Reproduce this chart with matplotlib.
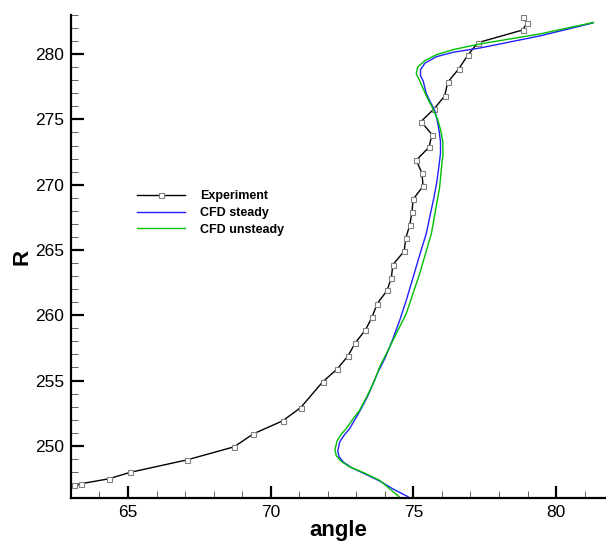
import matplotlib
matplotlib.use("Agg")
import matplotlib.pyplot as plt
from matplotlib.ticker import MultipleLocator

plt.rcParams['font.family'] = ['Liberation Sans', 'DejaVu Sans']

# experiment: angle, R
exp_angle = [63.1, 63.37, 64.33, 65.07, 67.07, 68.72, 69.39, 70.42, 71.05, 71.82,
             72.33, 72.71, 72.96, 73.32, 73.56, 73.73, 74.08, 74.23, 74.28, 74.68,
             74.73, 74.87, 74.95, 74.99, 75.34, 75.30, 75.10, 75.55, 75.65, 75.27,
             75.72, 76.1, 76.2, 76.6, 76.9, 77.26, 78.83, 78.97, 78.83]
exp_R = [247.0, 247.1, 247.47, 247.96, 248.92, 249.92, 250.91, 251.91, 252.92, 254.89,
         255.88, 256.88, 257.87, 258.87, 259.89, 260.88, 261.9, 262.88, 263.87, 264.91,
         265.88, 266.88, 267.87, 268.88, 269.88, 270.88, 271.88, 272.87, 273.84, 274.84,
         275.8, 276.8, 277.84, 278.9, 279.9, 280.88, 281.85, 282.36, 282.87]

# CFD steady
st_angle = [74.81, 74.28, 73.82, 73.3, 72.85, 72.55, 72.4, 72.35, 72.42, 72.57, 72.76,
            72.95, 73.11, 73.4, 73.76, 74.0, 74.25, 74.52, 74.76, 74.99, 75.22,
            75.45, 75.62, 75.72, 75.83, 75.9, 75.95, 75.95, 75.9, 75.83, 75.75,
            75.57, 75.45, 75.34, 75.25, 75.25, 75.4, 75.8, 76.4, 77.33, 79.44, 81.29]
st_R = [246.1, 246.7, 247.3, 247.85, 248.3, 248.75, 249.15, 249.6, 250.3, 250.8, 251.3,
        252.0, 252.6, 253.8, 255.65, 256.68, 258.0, 259.6, 261.2, 262.9, 264.6,
        266.24, 268.0, 269.0, 270.32, 271.5, 272.4, 273.3, 274.15, 275.0, 275.68,
        276.44, 277.0, 277.97, 278.35, 278.8, 279.3, 279.8, 280.15, 280.47, 281.4, 282.39]

# CFD unsteady
un_angle = [74.5, 74.17, 73.82, 73.3, 72.75, 72.45, 72.3, 72.25, 72.33, 72.48, 72.64,
            72.9, 73.11, 73.4, 73.64, 73.82, 74.23, 74.75, 75.22, 75.63, 75.92,
            76.01, 76.04, 76.03, 75.96, 75.85, 75.69, 75.45, 75.22, 75.1, 75.15,
            75.4, 75.8, 76.4, 77.33, 79.44, 81.31]
un_R = [246.1, 246.7, 247.35, 247.9, 248.4, 248.85, 249.25, 249.7, 250.4, 250.9, 251.3,
        252.1, 252.7, 253.9, 255.0, 256.04, 257.83, 260.12, 263.18, 266.24, 269.8,
        271.85, 272.36, 273.3, 274.15, 275.0, 275.8, 276.82, 277.97, 278.5, 279.0,
        279.5, 279.95, 280.35, 280.78, 281.55, 282.43]

fig = plt.figure(figsize=(6.06, 5.41), dpi=100)
ax = fig.add_axes([0.117, 0.0795, 0.883, 0.8928])

ax.plot(exp_angle, exp_R, color='black', lw=1.0, marker='s', markersize=3.6,
        markerfacecolor='white', markeredgecolor='#808080', markeredgewidth=0.8,
        label='Experiment')
ax.plot(st_angle, st_R, color='#2020ff', lw=1.0, label='CFD steady')
ax.plot(un_angle, un_R, color='#00c000', lw=1.0, label='CFD unsteady')

ax.set_xlim(63, 81.75)
ax.set_ylim(246, 283)
ax.xaxis.set_major_locator(MultipleLocator(5))
ax.xaxis.set_minor_locator(MultipleLocator(1))
ax.yaxis.set_major_locator(MultipleLocator(5))
ax.yaxis.set_minor_locator(MultipleLocator(1))

for s in ['top', 'right']:
    ax.spines[s].set_visible(False)
for s in ['left', 'bottom']:
    ax.spines[s].set_linewidth(1.6)

ax.tick_params(which='major', direction='in', length=9, width=1.6, labelsize=12.5, pad=5)
ax.tick_params(which='minor', direction='in', length=5, width=0.7, color='#606060')

ax.set_xlabel('angle', fontsize=16, fontweight='bold', labelpad=0)
ax.set_ylabel('R', fontsize=16, fontweight='bold', labelpad=2)

leg = ax.legend(loc='upper left', bbox_to_anchor=(0.102, 0.66), frameon=False,
                handlelength=3.84, handletextpad=1.2, labelspacing=0.37,
                prop={'weight': 'bold', 'size': 9})

fig.savefig('out.png', dpi=100)
